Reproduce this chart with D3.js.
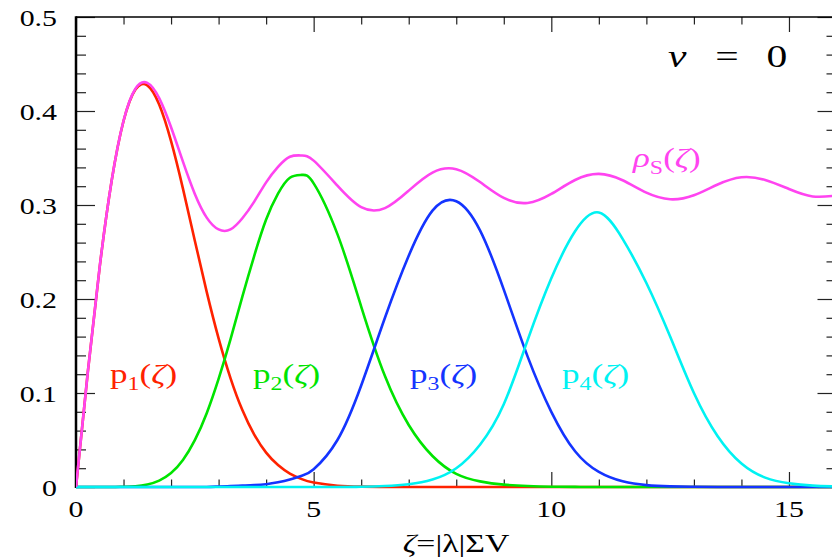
<!DOCTYPE html>
<html>
<head>
<meta charset="utf-8">
<script src="https://cdn.jsdelivr.net/npm/d3@7"></script>
<style>
body { margin: 0; background: #fff; }
svg { display: block; }
text { font-family: "Liberation Serif", "DejaVu Serif", serif; }
</style>
</head>
<body>
<div id="chart"></div>
<script>

// sample points along zeta
var zeta = [0, 0.25, 0.5, 0.75, 1, 1.25, 1.5, 1.75, 2, 2.25, 2.5, 2.75, 3, 3.25, 3.5, 3.75, 4, 4.25, 4.5, 4.75, 5,
            5.5, 6, 6.5, 7, 7.5, 8, 8.5, 9, 9.5, 10, 10.5, 11, 11.5, 12, 12.5, 13, 13.5, 14, 14.5, 15, 15.5, 16];

var rhoS = [0, 0.1231, 0.2349, 0.3258, 0.3896, 0.4237, 0.4299, 0.4137, 0.3827, 0.3461, 0.3118, 0.2866, 0.2740, 0.2740, 0.2859, 0.3036, 0.3241, 0.3405, 0.3513, 0.3527, 0.3472,
            0.3206, 0.2977, 0.2967, 0.3153, 0.3345, 0.3381, 0.3244, 0.3075, 0.3022, 0.3118, 0.3266, 0.3331, 0.3263, 0.3131, 0.3061, 0.3104, 0.3218, 0.3295, 0.3267, 0.3170, 0.3091, 0.3101];

var p1 = [0, 0.1231, 0.2348, 0.3258, 0.3894, 0.4229, 0.4273, 0.4069, 0.3679, 0.3174, 0.2620, 0.2076, 0.1581, 0.1159, 0.0818, 0.0557, 0.0366, 0.0233, 0.0143, 0.0084, 0.0048,
          0.0014, 0.0004, 0.0001, 0, 0, 0, 0, 0, 0, 0, 0, 0, 0, 0, 0, 0, 0, 0, 0, 0, 0, 0];

var p2 = [0, 0, 0, 0, 0.0003, 0.0008, 0.0026, 0.0068, 0.0148, 0.0287, 0.0498, 0.0785, 0.115, 0.157, 0.2026, 0.246, 0.2845, 0.312, 0.329, 0.332, 0.323,
          0.269, 0.192, 0.118, 0.066, 0.033, 0.014, 0.006, 0.0025, 0.001, 0.0003, 0.0001, 0, 0, 0, 0, 0, 0, 0, 0, 0, 0, 0];

var p3 = [0, 0, 0, 0, 0, 0, 0, 0, 0, 0, 0, 0, 0.0005, 0.001, 0.0015, 0.002, 0.003, 0.005, 0.008, 0.012, 0.019,
          0.050, 0.108, 0.180, 0.246, 0.294, 0.304, 0.273, 0.210, 0.139, 0.080, 0.038, 0.016, 0.006, 0.002, 0.0007, 0.0002, 0, 0, 0, 0, 0, 0];

var p4 = [0, 0, 0, 0, 0, 0, 0, 0, 0, 0, 0, 0, 0, 0, 0, 0, 0, 0, 0, 0, 0,
          0, 0.0002, 0.001, 0.003, 0.008, 0.020, 0.045, 0.088, 0.156, 0.222, 0.272, 0.292, 0.264, 0.217, 0.160, 0.100, 0.054, 0.025, 0.010, 0.004, 0.0015, 0.0005];

var xTicks = [0, 5, 10, 15];
var yTicks = [0, 0.1, 0.2, 0.3, 0.4, 0.5];
var yTickLabels = ["0", "0.1", "0.2", "0.3", "0.4", "0.5"];

var W = 832, H = 558;
var plotL = 76, plotT = 17, plotB = 487, plotR = 836.5;
var stretch = 1.3;   // the glyphs in the picture are wide

var x = d3.scaleLinear().domain([0, 16]).range([plotL, plotR]);
var y = d3.scaleLinear().domain([0, 0.5]).range([plotB, plotT]);

var svg = d3.select("#chart").append("svg")
  .attr("width", W)
  .attr("height", H);

// text helper: parts are {t, sub, it}
function label(str, px, py, size, color, anchor) {
  var t = svg.append("text")
    .attr("transform", "translate(" + px + "," + py + ") scale(" + stretch + ",1)")
    .attr("font-size", size)
    .attr("fill", color || "#000")
    .attr("text-anchor", anchor || "start");
  var parts = typeof str === "string" ? [{t: str}] : str;
  var down = 0;
  parts.forEach(function (p) {
    var s = t.append("tspan").text(p.t);
    var want = p.sub ? size * 0.27 : 0;
    if (want !== down) { s.attr("dy", want - down); down = want; }
    if (p.sub) s.attr("font-size", size * 0.68);
    if (p.it) s.attr("font-style", "italic");
  });
  return t;
}

// ticks on all four sides
var xMinor = x.ticks(16).filter(function (d) { return xTicks.indexOf(d) < 0; });
var yMinor = d3.range(0, 0.501, 0.02).filter(function (d) { return Math.abs(Math.round(d * 10) - d * 10) > 1e-6; });

function ticks(axis, vals, size, where) {
  var g = svg.append("g").attr("transform", where)
    .call(axis.tickValues(vals).tickSize(size).tickFormat(""));
  g.select(".domain").remove();
  g.selectAll("line").attr("stroke", "#222").attr("stroke-width", 1.2);
}
ticks(d3.axisBottom(x), xTicks, -15, "translate(0," + plotB + ")");
ticks(d3.axisBottom(x), xMinor, -7.5, "translate(0," + plotB + ")");
ticks(d3.axisTop(x), xTicks, -15, "translate(0," + plotT + ")");
ticks(d3.axisTop(x), xMinor, -7.5, "translate(0," + plotT + ")");
ticks(d3.axisLeft(y), yTicks, -19, "translate(" + plotL + ",0)");
ticks(d3.axisLeft(y), yMinor, -10, "translate(" + plotL + ",0)");
ticks(d3.axisRight(y), yTicks, -19, "translate(" + plotR + ",0)");
ticks(d3.axisRight(y), yMinor, -10, "translate(" + plotR + ",0)");

// frame
svg.append("line").attr("x1", plotL).attr("x2", plotR).attr("y1", plotT).attr("y2", plotT)
  .attr("stroke", "#000").attr("stroke-width", 1.5);
svg.append("line").attr("x1", plotL).attr("x2", plotR).attr("y1", plotB).attr("y2", plotB)
  .attr("stroke", "#000").attr("stroke-width", 2);
svg.append("line").attr("x1", plotL).attr("x2", plotL).attr("y1", plotT - 0.75).attr("y2", plotB + 1)
  .attr("stroke", "#000").attr("stroke-width", 2.5);

// tick labels
xTicks.forEach(function (d) { label(String(d), x(d), 517, 23, "#000", "middle"); });
yTicks.forEach(function (d, i) { label(yTickLabels[i], 57, y(d) + 8.5, 23, "#000", "end"); });

// curves
svg.append("clipPath").attr("id", "plot")
  .append("rect").attr("x", plotL).attr("y", plotT).attr("width", plotR - plotL).attr("height", plotB - plotT + 2);

var series = [
  {vals: p1, color: "#ff2200"},
  {vals: p2, color: "#00e400"},
  {vals: p3, color: "#1434ff"},
  {vals: p4, color: "#00f2f2"},
  {vals: rhoS, color: "#ff44f0"}
];

var line = d3.line()
  .x(function (d) { return x(d[0]); })
  .y(function (d) { return y(Math.max(0, d[1])); })
  .curve(d3.curveNatural);

svg.append("g").attr("clip-path", "url(#plot)")
  .selectAll("path")
  .data(series)
  .enter()
  .append("path")
    .attr("d", function (s) { return line(zeta.map(function (z, i) { return [z, s.vals[i]]; })); })
    .attr("fill", "none")
    .attr("stroke", function (s) { return s.color; })
    .attr("stroke-width", 2.6);

// curve labels
label([{t: "p"}, {t: "1", sub: true}, {t: "("}, {t: "ζ", it: true}, {t: ")"}], 110, 383, 27, "#ff2200");
label([{t: "p"}, {t: "2", sub: true}, {t: "("}, {t: "ζ", it: true}, {t: ")"}], 253, 383, 27, "#00e400");
label([{t: "p"}, {t: "3", sub: true}, {t: "("}, {t: "ζ", it: true}, {t: ")"}], 410, 383, 27, "#1434ff");
label([{t: "p"}, {t: "4", sub: true}, {t: "("}, {t: "ζ", it: true}, {t: ")"}], 562, 383, 27, "#00f2f2");
label([{t: "ρ", it: true}, {t: "S", sub: true}, {t: "("}, {t: "ζ", it: true}, {t: ")"}], 633, 167, 27, "#ff44f0");

// nu = 0
label([{t: "ν", it: true}], 668, 67, 32, "#000");
label("=", 727, 67, 32, "#000", "middle");
label("0", 777, 67, 32, "#000", "middle");

// x axis title
label([{t: "ζ", it: true}, {t: "=|λ|ΣV"}], 456, 552, 26, "#000", "middle");

</script>
</body>
</html>
